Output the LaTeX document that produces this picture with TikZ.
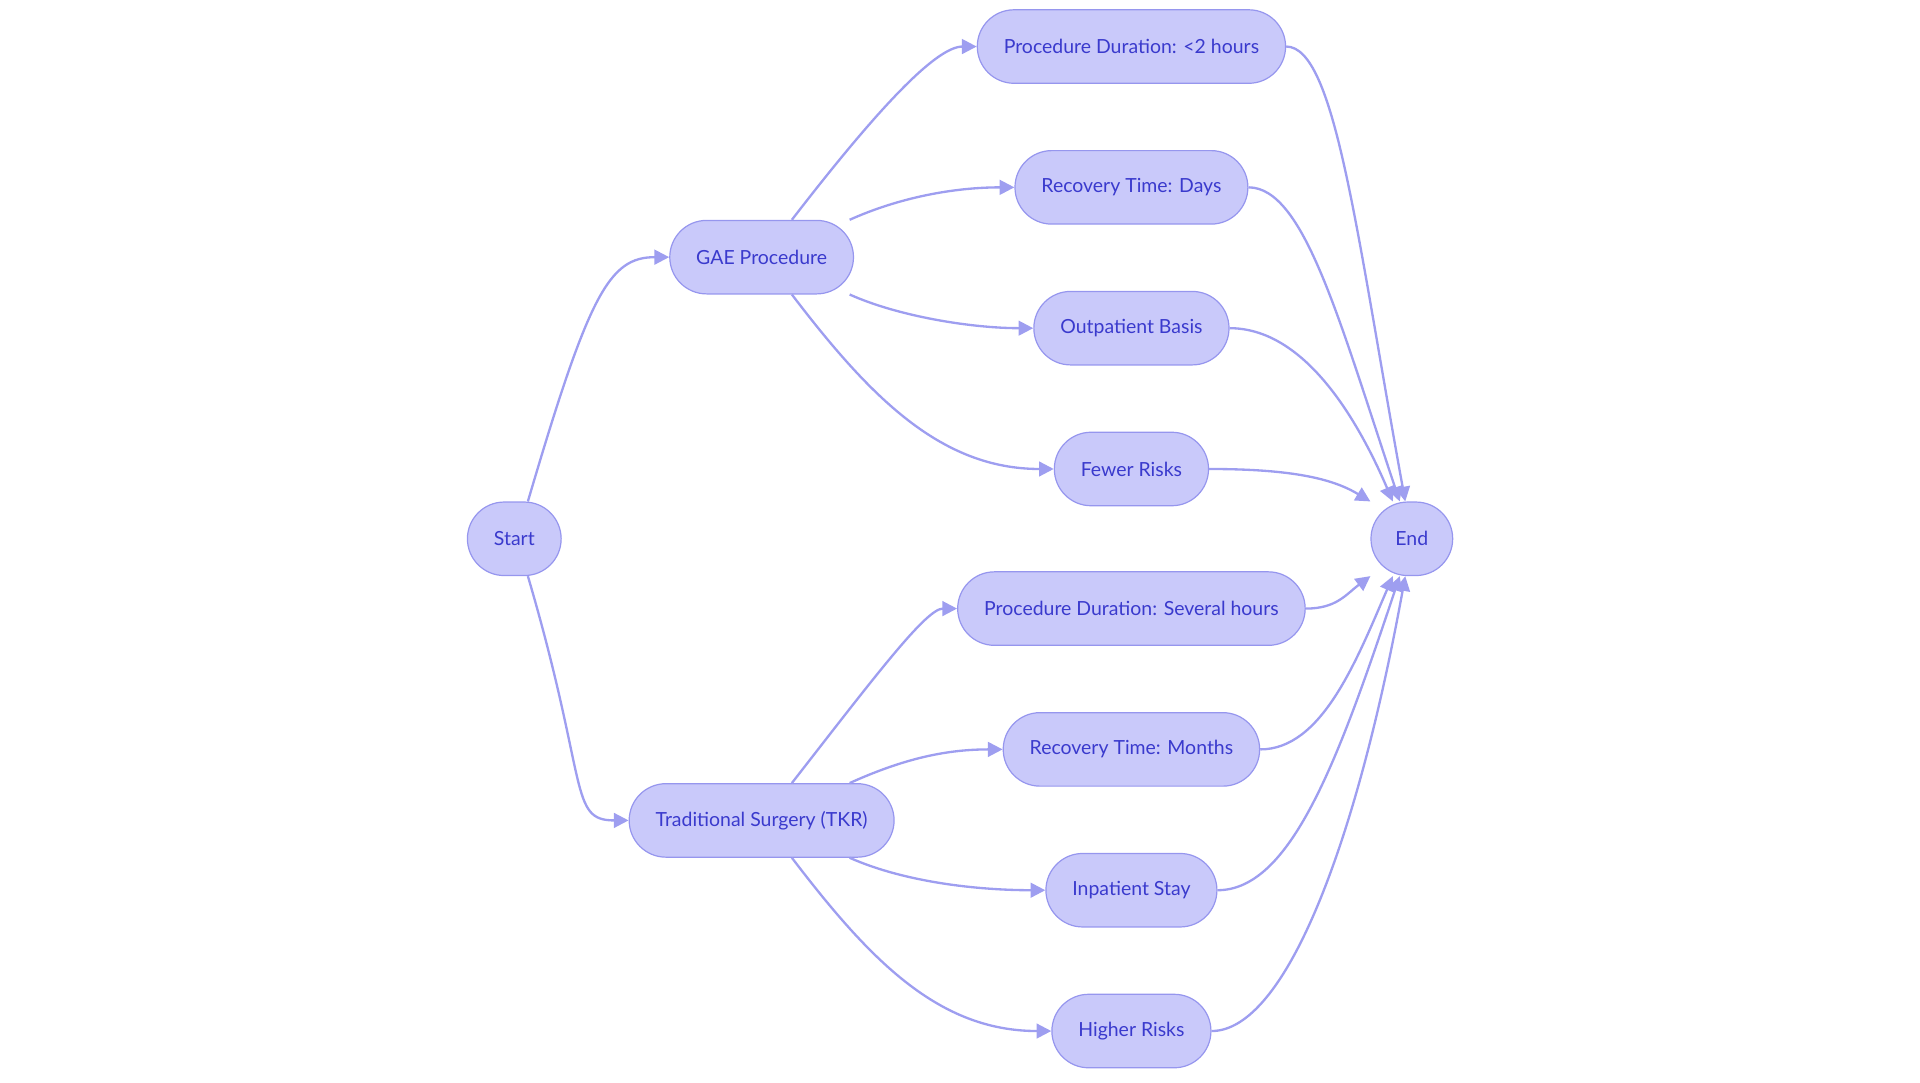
\documentclass[tikz,border=0pt]{standalone}
\usepackage{fontspec}
\setmainfont{Lato}
\usetikzlibrary{arrows.meta}
\definecolor{boxfill}{RGB}{201,201,250}
\definecolor{boxline}{RGB}{150,150,238}
\definecolor{boxtext}{RGB}{58,58,205}
\definecolor{linkcol}{RGB}{158,158,240}
\begin{document}
\begin{tikzpicture}[x=0.025cm,y=-0.025cm,
    box/.style={draw=boxline,fill=boxfill,text=boxtext,line width=0.7pt,
      rounded corners=0.75cm,minimum height=1.5cm,inner xsep=0.54cm,
      font=\fontsize{11.3}{13}\selectfont},
    link/.style={draw=linkcol,line width=1.35pt,-{Triangle[length=0.3cm,width=0.3cm]}}]
    \useasboundingbox (0,0) rectangle (1568,884);
    % nodes
    \node[box] (start) at (420,440) {Start};
    \node[box] (gae) at (622,210) {GAE Procedure};
    \node[box] (tkr) at (622,670) {Traditional Surgery (TKR)};
    \node[box] (pdshort) at (924,38) {Procedure Duration: <2 hours};
    \node[box] (rdays) at (924,153) {Recovery Time: Days};
    \node[box] (outp) at (924,268) {Outpatient Basis};
    \node[box] (fewer) at (924,383) {Fewer Risks};
    \node[box] (pdlong) at (924,497) {Procedure Duration: Several hours};
    \node[box] (rmonths) at (924,612) {Recovery Time: Months};
    \node[box] (inp) at (924,727) {Inpatient Stay};
    \node[box] (higher) at (924,842) {Higher Risks};
    \node[box,inner xsep=0.5cm] (end) at (1153,440) {End};
    % start to the two branches
    \draw[link] (start.70) .. controls +(50,-170) and +(-49,0) .. (gae.west);
    \draw[link] (start.-70) .. controls +(50,170) and +(-49,0) .. (tkr.west);
    % GAE branch
    \draw[link] (gae.51) .. controls +(74,-96) and +(-32,0) .. (pdshort.west);
    \draw[link] (gae.23) .. controls +(40,-18) and +(-50,0) .. (rdays.west);
    \draw[link] (gae.-23) .. controls +(40,18) and +(-50,0) .. (outp.west);
    \draw[link] (gae.-51) .. controls +(64,84) and +(-92,0) .. (fewer.west);
    % TKR branch
    \draw[link] (tkr.51) .. controls +(70,-90) and +(-25,0) .. (pdlong.west);
    \draw[link] (tkr.23) .. controls +(40,-18) and +(-50,0) .. (rmonths.west);
    \draw[link] (tkr.-23) .. controls +(45,20) and +(-55,0) .. (inp.west);
    \draw[link] (tkr.-51) .. controls +(64,84) and +(-92,0) .. (higher.west);
    % everything into End
    \draw[link] (pdshort.east) .. controls +(40,0) and +(-40,-220) .. (end.100);
    \draw[link] (rdays.east) .. controls +(45,0) and +(-50,-150) .. (end.108);
    \draw[link] (outp.east) .. controls +(60,0) and +(-30,-70) .. (end.117);
    \draw[link] (fewer.east) .. controls +(70,0) and +(-30,-18) .. (end.north west);
    \draw[link] (pdlong.east) .. controls +(25,0) and +(-20,15) .. (end.south west);
    \draw[link] (rmonths.east) .. controls +(50,0) and +(-30,70) .. (end.-117);
    \draw[link] (inp.east) .. controls +(60,0) and +(-50,150) .. (end.-108);
    \draw[link] (higher.east) .. controls +(60,0) and +(-40,220) .. (end.-100);
\end{tikzpicture}
\end{document}
